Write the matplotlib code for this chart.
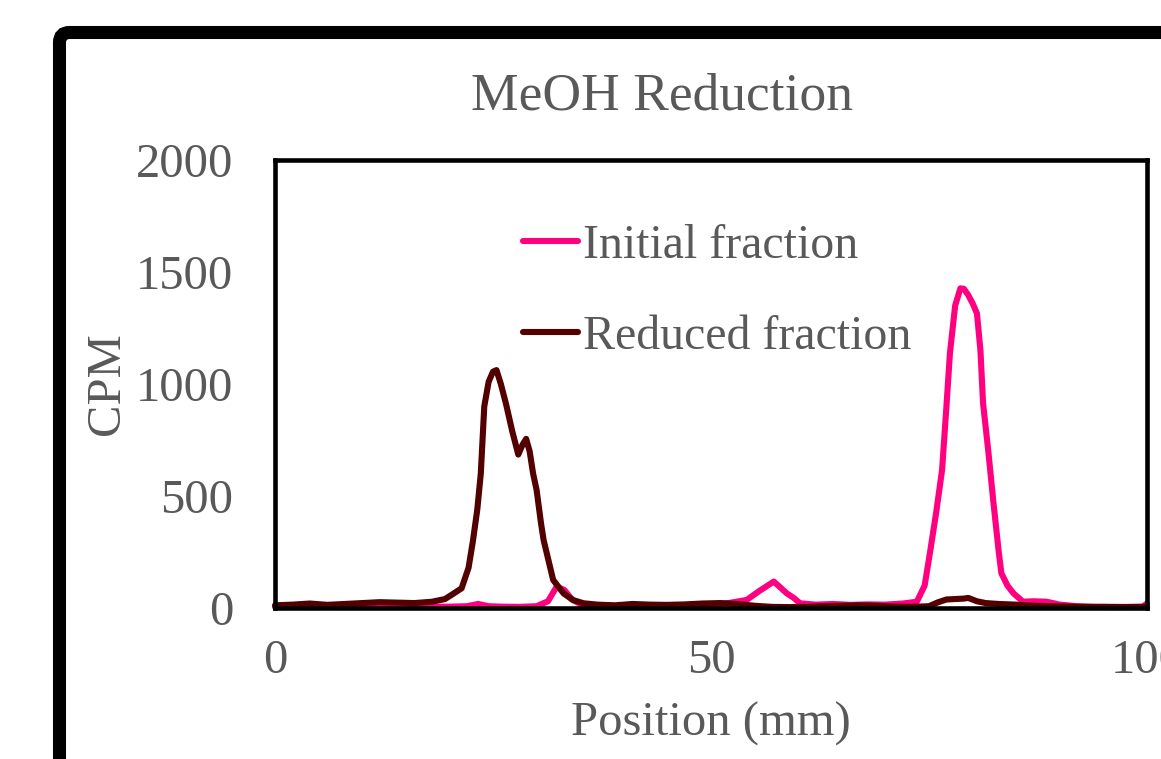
import matplotlib
matplotlib.use("Agg")
import matplotlib.pyplot as plt
from matplotlib.patches import FancyBboxPatch
from matplotlib.transforms import IdentityTransform

plt.rcParams['font.family'] = ['Liberation Serif', 'DejaVu Serif']

# radio-TLC scan, counts per minute vs position along the plate
initial_pos = [0, 5, 10, 15, 20, 22, 23.3, 24.5, 26, 28,
               30, 31.3, 32.3, 33.2, 34, 35, 36, 38, 40, 42,
               44, 46, 48, 50, 52, 54.1, 55.5, 57.2, 58.0, 58.7,
               59.5, 60.2, 62, 64, 66, 68, 70, 72, 73.6, 74.5,
               75.1, 75.8, 76.5, 77.0, 77.4, 78.0, 78.6, 79.0, 79.5, 80.0,
               80.5, 80.9, 81.2, 81.8, 82.4, 83.0, 83.3, 84.0, 84.7, 85.8,
               87, 88.5, 90, 92, 94, 96, 98, 99.5, 100]
initial_cpm = [5, 5, 6, 5, 6, 8, 18, 8, 6, 5,
               8, 30, 95, 80, 40, 18, 10, 8, 7, 8,
               10, 9, 12, 15, 22, 36, 75, 118, 90, 65,
               45, 21, 15, 18, 14, 16, 15, 20, 28, 100,
               244, 420, 616, 900, 1137, 1350, 1427, 1425, 1397, 1360,
               1315, 1150, 914, 700, 467, 250, 155, 100, 65, 28,
               30, 28, 15, 8, 5, 5, 5, 6, 20]

reduced_pos = [0, 2, 4, 6, 8, 10, 12, 14, 16, 18,
               19.5, 20.5, 21.4, 22.2, 22.7, 23.2, 23.6, 24.0, 24.5, 25.0,
               25.4, 25.9, 26.5, 27.2, 27.9, 28.4, 28.8, 29.2, 29.6, 30.0,
               30.5, 30.8, 31.9, 33.1, 34.2, 35.4, 37, 39, 41, 43,
               45, 47, 49, 51, 53, 55, 57, 59, 61, 63,
               65, 67, 69, 71, 73, 75, 76, 77, 78, 79,
               79.5, 80.5, 81.5, 83, 85, 87, 89, 91, 93, 95,
               97, 100]
reduced_cpm = [12, 15, 20, 14, 18, 22, 26, 24, 22, 28,
               40, 65, 88, 180, 300, 440, 600, 900, 1010, 1055,
               1062, 1000, 910, 790, 685, 730, 755, 700, 600, 527,
               380, 304, 125, 65, 35, 21, 15, 12, 18, 15,
               14, 16, 20, 22, 18, 10, 5, 4, 5, 8,
               10, 12, 10, 6, 5, 8, 25, 38, 40, 42,
               45, 30, 22, 18, 15, 10, 8, 6, 5, 5,
               4, 5]

x_ticks = [0, 50, 100]
y_ticks = [0, 500, 1000, 1500, 2000]

grey = '#595959'
pink = '#FF0080'
maroon = '#520000'

fig = plt.figure(figsize=(11.61, 7.59), dpi=100)
ax = fig.add_axes([275 / 1161, 1 - 608 / 759, 872 / 1161, 448 / 759])

# chart border, runs off the right and bottom edges
frame = FancyBboxPatch((59.5, -300), 1500, 726.5 + 300,
                       boxstyle='round,pad=0,rounding_size=10',
                       transform=IdentityTransform(), facecolor='none',
                       edgecolor='black', linewidth=9.4, zorder=0)
fig.patches.append(frame)

ax.plot(initial_pos, initial_cpm, color=pink, lw=4.4, label='Initial fraction',
        solid_joinstyle='round', solid_capstyle='round', clip_on=False)
ax.plot(reduced_pos, reduced_cpm, color=maroon, lw=4.4, label='Reduced fraction',
        solid_joinstyle='round', solid_capstyle='round', clip_on=False)

ax.set_xlim(0, 100)
ax.set_ylim(0, 2000)
ax.set_xticks(x_ticks)
ax.set_yticks(y_ticks)
ax.tick_params(length=0, labelsize=35, labelcolor=grey)
ax.tick_params(axis='x', pad=22)
ax.tick_params(axis='y', pad=30)

for s in ax.spines.values():
    s.set_linewidth(3.3)
    s.set_color('black')

ax.set_xlabel('Position (mm)', fontsize=35, color=grey)
ax.set_ylabel('CPM', fontsize=35, color=grey)
ax.xaxis.set_label_coords(0.5, -0.21)
ax.yaxis.set_label_coords(-0.168, 0.5)

fig.text(662 / 1161, 1 - 96 / 759, 'MeOH Reduction', fontsize=38.5, color=grey,
         ha='center', va='center')

leg = ax.legend(loc='upper left', bbox_to_anchor=(0.284, 0.857), frameon=False,
                fontsize=34.5, handlelength=1.15, handletextpad=0.1,
                labelspacing=0.97, borderpad=0, borderaxespad=0)
for t in leg.get_texts():
    t.set_color(grey)
for h in leg.get_lines():
    h.set_linewidth(4.4)

fig.savefig('out.png', dpi=100)
